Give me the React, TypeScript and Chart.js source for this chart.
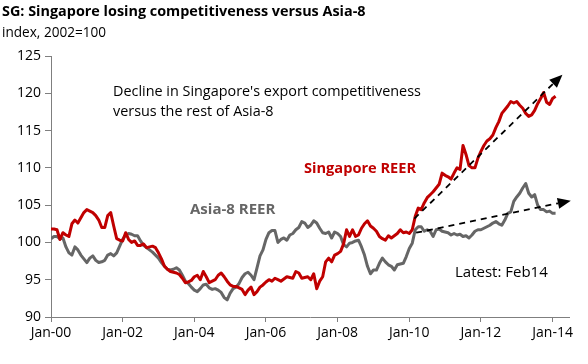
import React, { useEffect, useRef } from "react";
import { Chart, registerables } from "chart.js";

Chart.register(...registerables);

// Monthly index values, Jan-2000 .. Feb-2014 (index 0 = Jan-00)
const sgReer: number[] = [
  101.8, 101.8, 101.7, 100.4, 101.3, 101.0, 100.8, 102.5, 103.0, 102.6,
  103.3, 104.0, 104.4, 104.2, 104.0, 103.6, 103.0, 102.0, 102.0, 103.6,
  104.0, 102.2, 100.5, 100.3, 100.2, 101.3, 100.4, 100.0, 100.2, 99.6,
  99.6, 99.8, 99.3, 99.4, 99.5, 99.3, 98.6, 97.8, 96.8, 96.4,
  96.1, 96.0, 95.9, 95.7, 95.2, 94.6, 94.7, 94.9, 95.4, 95.6,
  95.0, 96.1, 95.4, 94.6, 94.8, 95.0, 95.6, 95.9, 95.4, 94.8,
  94.3, 94.1, 94.1, 93.9, 93.7, 93.0, 93.6, 94.0, 93.0, 93.4,
  94.0, 94.3, 94.7, 95.0, 94.8, 95.2, 95.0, 94.8, 95.1, 95.4,
  95.3, 95.2, 96.1, 95.9, 95.2, 95.3, 95.4, 95.0, 95.8, 93.8,
  94.8, 95.4, 97.4, 97.9, 97.4, 98.3, 98.5, 98.8, 99.8, 101.7,
  100.8, 101.7, 100.8, 101.0, 101.9, 102.5, 102.9, 102.2, 101.9, 101.5,
  100.8, 100.5, 100.3, 100.9, 100.6, 100.9, 101.2, 101.7, 101.3, 101.4,
  101.2, 101.7, 103.5, 104.6, 104.4, 105.3, 106.0, 106.4, 106.8, 107.3,
  107.8, 109.3, 109.0, 108.8, 108.5, 109.3, 110.0, 109.8, 113.0, 111.8,
  110.3, 110.0, 110.0, 111.3, 112.2, 113.0, 113.6, 113.9, 114.4, 115.4,
  116.2, 117.3, 117.8, 118.3, 118.9, 118.7, 118.9, 118.4, 118.0, 117.3,
  116.9, 117.1, 117.7, 118.6, 119.3, 120.1, 118.8, 118.5, 119.3, 119.6,
];

const asiaReer: number[] = [
  100.5, 100.8, 100.8, 100.5, 100.6, 99.4, 98.6, 98.3, 99.4, 99.0,
  98.3, 97.8, 97.3, 97.9, 98.2, 97.6, 97.3, 97.4, 97.6, 98.3,
  98.5, 98.2, 98.6, 99.5, 100.4, 101.0, 101.2, 101.1, 100.9, 100.9,
  100.2, 99.6, 99.3, 99.0, 98.7, 98.3, 97.9, 97.3, 96.8, 96.4,
  96.3, 96.4, 96.6, 96.3, 95.6, 94.8, 94.5, 94.0, 93.6, 93.4,
  93.8, 94.3, 94.4, 93.9, 93.7, 93.8, 93.6, 93.3, 92.6, 92.3,
  93.2, 93.8, 94.0, 94.5, 95.3, 95.8, 96.0, 95.6, 95.0, 96.6,
  98.2, 99.0, 100.4, 101.3, 101.6, 101.6, 100.0, 100.4, 100.6, 100.3,
  101.0, 101.2, 101.7, 102.0, 102.8, 102.6, 102.0, 102.3, 102.9, 102.6,
  101.9, 101.3, 101.2, 101.4, 100.6, 101.4, 101.2, 100.8, 99.7, 99.4,
  99.9, 100.0, 100.2, 100.3, 99.4, 98.3, 96.8, 95.8, 96.3, 96.3,
  97.2, 97.9, 97.4, 97.0, 96.8, 96.3, 97.0, 97.1, 97.2, 98.1,
  99.2, 99.9, 101.7, 102.1, 102.1, 101.5, 101.7, 101.5, 100.8, 101.7,
  101.8, 101.5, 101.4, 101.3, 101.0, 101.2, 101.0, 101.1, 100.8, 100.9,
  100.6, 101.0, 101.5, 101.7, 101.7, 101.9, 102.1, 102.3, 102.6, 102.8,
  102.5, 102.3, 103.0, 103.9, 104.1, 105.5, 106.1, 106.6, 107.3, 107.9,
  106.6, 106.1, 106.4, 105.0, 104.4, 104.4, 104.1, 104.2, 103.9, 103.9,
];

// x tick positions (months since Jan-00) and their labels
const xTickMonths: number[] = [0, 24, 48, 72, 96, 120, 144, 168];
const xTickLabels: string[] = ["Jan-00", "Jan-02", "Jan-04", "Jan-06", "Jan-08", "Jan-10", "Jan-12", "Jan-14"];
const yTicks: number[] = [90, 95, 100, 105, 110, 115, 120, 125];

// Trend arrows in data coordinates (month index, index value)
const sgArrow = { from: [121.7, 103.2], to: [171.3, 122.5] };
const asiaArrow = { from: [122.3, 101.3], to: [174.1, 105.6] };

const RED = "#C00000";
const GREY = "#666666";
const AXIS = "#7f7f7f";
const FONT = "'Open Sans', 'Noto Sans', sans-serif";

const arrowPlugin = {
  id: "arrows",
  afterDatasetsDraw(chart: any) {
    const { ctx, scales } = chart;
    const xs = scales.x;
    const ys = scales.y;
    [sgArrow, asiaArrow].forEach((a) => {
      const x1 = xs.getPixelForValue(a.from[0]);
      const y1 = ys.getPixelForValue(a.from[1]);
      const x2 = xs.getPixelForValue(a.to[0]);
      const y2 = ys.getPixelForValue(a.to[1]);
      const ang = Math.atan2(y2 - y1, x2 - x1);
      const headLen = 13;
      const headW = 5.5;
      const bx = x2 - headLen * Math.cos(ang);
      const by = y2 - headLen * Math.sin(ang);
      ctx.save();
      ctx.strokeStyle = "#000";
      ctx.lineWidth = 1.8;
      ctx.setLineDash([6, 5]);
      ctx.beginPath();
      ctx.moveTo(x1, y1);
      ctx.lineTo(bx, by);
      ctx.stroke();
      ctx.setLineDash([]);
      ctx.fillStyle = "#000";
      ctx.beginPath();
      ctx.moveTo(x2, y2);
      ctx.lineTo(bx + headW * Math.sin(ang), by - headW * Math.cos(ang));
      ctx.lineTo(bx - headW * Math.sin(ang), by + headW * Math.cos(ang));
      ctx.closePath();
      ctx.fill();
      ctx.restore();
    });
  },
};

const textPlugin = {
  id: "texts",
  afterDraw(chart: any) {
    const { ctx } = chart;
    ctx.save();
    ctx.textBaseline = "middle";
    ctx.textAlign = "left";
    ctx.fillStyle = "#000";
    ctx.font = `bold 14.4px ${FONT}`;
    ctx.fillText("SG: Singapore losing competitiveness versus Asia-8", 2, 12);
    ctx.font = `13.6px ${FONT}`;
    ctx.fillText("index, 2002=100", 2, 33);
    ctx.font = `14.4px ${FONT}`;
    ctx.fillText("Decline in Singapore's export competitiveness", 113, 92);
    ctx.fillText("versus the rest of Asia-8", 113, 112);
    ctx.font = `15px ${FONT}`;
    ctx.fillText("Latest: Feb14", 455, 273);
    ctx.font = `bold 14.6px ${FONT}`;
    ctx.fillStyle = RED;
    ctx.fillText("Singapore REER", 304, 169);
    ctx.fillStyle = GREY;
    ctx.font = `bold 15px ${FONT}`;
    ctx.fillText("Asia-8 REER", 190, 210);
    ctx.restore();
  },
};

export default function App() {
  const canvasRef = useRef<HTMLCanvasElement | null>(null);

  useEffect(() => {
    if (!canvasRef.current) return;
    const chart = new Chart(canvasRef.current, {
      type: "line",
      data: {
        datasets: [
          {
            label: "Singapore REER",
            data: sgReer.map((v, i) => ({ x: i, y: v })),
            borderColor: RED,
            borderWidth: 3,
            pointRadius: 0,
            tension: 0,
            borderJoinStyle: "round",
            fill: false,
          },
          {
            label: "Asia-8 REER",
            data: asiaReer.map((v, i) => ({ x: i, y: v })),
            borderColor: GREY,
            borderWidth: 3,
            pointRadius: 0,
            tension: 0,
            borderJoinStyle: "round",
            fill: false,
          },
        ],
      },
      options: {
        animation: false,
        responsive: false,
        devicePixelRatio: 1,
        layout: { padding: { top: 56, right: 19, left: 0, bottom: 0 } },
        plugins: {
          legend: { display: false },
          tooltip: { enabled: false },
          title: { display: false },
        },
        scales: {
          x: {
            type: "linear",
            min: 0,
            max: 173.5,
            afterBuildTicks: (s: any) => {
              s.ticks = xTickMonths.map((v) => ({ value: v }));
            },
            afterFit: (s: any) => {
              s.height = 47;
            },
            ticks: {
              autoSkip: false,
              maxRotation: 0,
              padding: 3,
              color: "#000",
              font: { family: FONT, size: 14 },
              callback: (v: any) => {
                const i = xTickMonths.indexOf(Number(v));
                return i >= 0 ? xTickLabels[i] : "";
              },
            },
            grid: { drawOnChartArea: false, tickLength: 5, color: AXIS },
            border: { color: AXIS, width: 1 },
          },
          y: {
            type: "linear",
            min: 90,
            max: 125,
            afterBuildTicks: (s: any) => {
              s.ticks = yTicks.map((v) => ({ value: v }));
            },
            afterFit: (s: any) => {
              s.width = 51;
            },
            ticks: {
              padding: 4,
              color: "#000",
              font: { family: FONT, size: 14 },
            },
            grid: { drawOnChartArea: false, tickLength: 6, color: AXIS },
            border: { color: AXIS, width: 1 },
          },
        },
      },
      plugins: [arrowPlugin, textPlugin],
    });
    return () => chart.destroy();
  }, []);

  return (
    <div style={{ position: "absolute", left: 0, top: 0, width: 588, height: 364, background: "#fff" }}>
      <canvas ref={canvasRef} width={588} height={364} style={{ width: 588, height: 364 }} />
    </div>
  );
}
